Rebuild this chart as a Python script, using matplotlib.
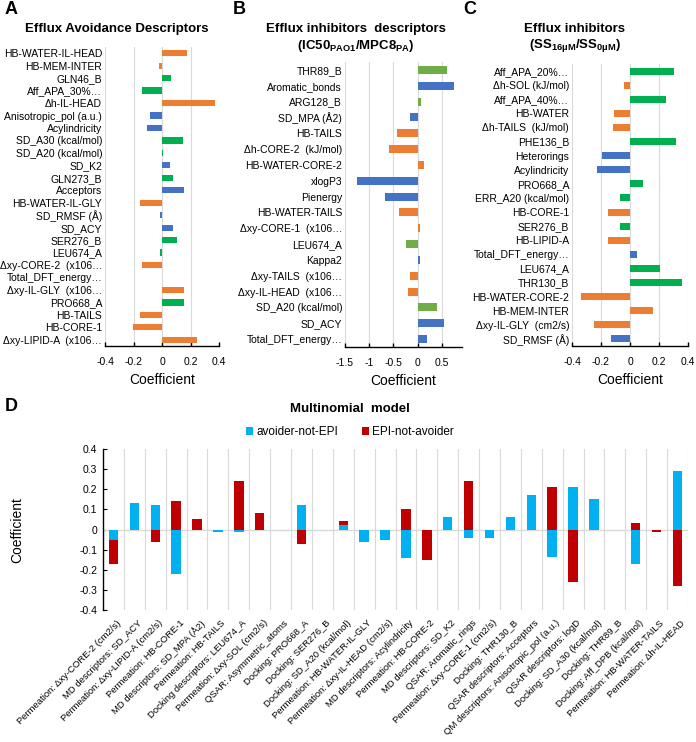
import numpy as np
import matplotlib
matplotlib.use('Agg')
import matplotlib.pyplot as plt

plt.rcParams['font.family'] = ['Liberation Sans', 'DejaVu Sans']
plt.rcParams['mathtext.fontset'] = 'custom'
plt.rcParams['mathtext.rm'] = 'Liberation Sans'
plt.rcParams['mathtext.bf'] = 'Liberation Sans:bold'
plt.rcParams['mathtext.it'] = 'Liberation Sans:italic'

ORANGE = '#ED7D31'
GREEN = '#00B050'
GREEN_B = '#70AD47'
BLUE = '#4472C4'
SKY = '#00B0F0'
DRED = '#C00000'

# panel A
a_labels = ['HB-WATER-IL-HEAD', 'HB-MEM-INTER', 'GLN46_B', 'Aff_APA_30%…', 'Δh-IL-HEAD',
            'Anisotropic_pol (a.u.)', 'Acylindricity', 'SD_A30 (kcal/mol)', 'SD_A20 (kcal/mol)',
            'SD_K2', 'GLN273_B', 'Acceptors', 'HB-WATER-IL-GLY', 'SD_RMSF (Å)', 'SD_ACY',
            'SER276_B', 'LEU674_A', 'Δxy-CORE-2  (x106…', 'Total_DFT_energy…',
            'Δxy-IL-GLY  (x106…', 'PRO668_A', 'HB-TAILS', 'HB-CORE-1', 'Δxy-LIPID-A  (x106…']
a_values = [0.178, -0.02, 0.065, -0.14, 0.37, -0.087, -0.105, 0.145, 0.005, 0.054, 0.075,
            0.154, -0.157, -0.016, 0.075, 0.105, -0.016, -0.143, 0.002, 0.154, 0.152,
            -0.157, -0.206, 0.243]
a_groups = ['o', 'o', 'g', 'g', 'o', 'b', 'b', 'g', 'g', 'b', 'g', 'b', 'o', 'b', 'b',
            'g', 'g', 'o', 'b', 'o', 'g', 'o', 'o', 'o']

# panel B
b_labels = ['THR89_B', 'Aromatic_bonds', 'ARG128_B', 'SD_MPA (Å2)', 'HB-TAILS',
            'Δh-CORE-2  (kJ/mol)', 'HB-WATER-CORE-2', 'xlogP3', 'Pienergy', 'HB-WATER-TAILS',
            'Δxy-CORE-1  (x106…', 'LEU674_A', 'Kappa2', 'Δxy-TAILS  (x106…',
            'Δxy-IL-HEAD  (x106…', 'SD_A20 (kcal/mol)', 'SD_ACY', 'Total_DFT_energy…']
b_values = [0.61, 0.76, 0.07, -0.16, -0.43, -0.60, 0.13, -1.25, -0.68, -0.385, 0.055,
            -0.24, 0.055, -0.15, -0.20, 0.41, 0.54, 0.19]
b_groups = ['g', 'b', 'g', 'b', 'o', 'o', 'o', 'b', 'b', 'o', 'o', 'g', 'b', 'o', 'o',
            'g', 'b', 'b']

# panel C
c_labels = ['Aff_APA_20%…', 'Δh-SOL (kJ/mol)', 'Aff_APA_40%…', 'HB-WATER',
            'Δh-TAILS  (kJ/mol)', 'PHE136_B', 'Heterorings', 'Acylindricity', 'PRO668_A',
            'ERR_A20 (kcal/mol)', 'HB-CORE-1', 'SER276_B', 'HB-LIPID-A', 'Total_DFT_energy…',
            'LEU674_A', 'THR130_B', 'HB-WATER-CORE-2', 'HB-MEM-INTER', 'Δxy-IL-GLY  (cm2/s)',
            'SD_RMSF (Å)']
c_values = [0.30, -0.04, 0.25, -0.11, -0.12, 0.32, -0.19, -0.23, 0.09, -0.07, -0.15,
            -0.07, -0.15, 0.05, 0.21, 0.36, -0.34, 0.16, -0.25, -0.13]
c_groups = ['g', 'o', 'g', 'o', 'o', 'g', 'b', 'b', 'g', 'g', 'o', 'g', 'o', 'b', 'g',
            'g', 'o', 'o', 'o', 'b']

# panel D
d_labels = ['Permeation: Δxy-CORE-2 (cm2/s)', 'MD descriptors: SD_ACY',
            'Permeation: Δxy-LIPID-A (cm2/s)', 'Permeation: HB-CORE-1',
            'MD descriptors: SD_MPA (Å2)', 'Permeation: HB-TAILS',
            'Docking descriptors: LEU674_A', 'Permeation: Δxy-SOL (cm2/s)',
            'QSAR: Asymmetric_atoms', 'Docking: PRO668_A', 'Docking: SER276_B',
            'Docking: SD_A20 (kcal/mol)', 'Permeation: HB-WATER-IL-GLY',
            'Permeation: Δxy-IL-HEAD (cm2/s)', 'MD descriptors: Acylindricity',
            'Permeation: HB-CORE-2', 'MD descriptors: SD_K2', 'QSAR: Aromatic_rings',
            'Permeation: Δxy-CORE-1 (cm2/s)', 'Docking: THR130_B',
            'QSAR descriptors: Acceptors', 'QM descriptors: Anisotropic_pol (a.u.)',
            'QSAR descriptors: logD', 'Docking: SD_A30 (kcal/mol)', 'Docking: THR89_B',
            'Docking: Aff_DPB (kcal/mol)', 'Permeation: HB-WATER-TAILS',
            'Permeation: Δh-IL-HEAD']
avoider = [-0.05, 0.13, 0.12, -0.22, 0.0, -0.01, -0.01, 0.0, 0.0, 0.12, 0.0, 0.02,
           -0.06, -0.05, -0.14, 0.0, 0.06, -0.04, -0.04, 0.06, 0.17, -0.135, 0.21, 0.15,
           0.0, -0.17, 0.0, 0.29]
epi = [-0.12, 0.0, -0.06, 0.14, 0.05, 0.0, 0.24, 0.08, 0.0, -0.07, 0.0, 0.02,
       0.0, 0.0, 0.10, -0.15, 0.0, 0.24, 0.0, 0.0, 0.0, 0.21, -0.26, 0.0,
       0.0, 0.03, -0.01, -0.28]

W, H = 696, 742
fig = plt.figure(figsize=(W / 100, H / 100), dpi=100)


def box(x0, y0, x1, y1):
    return [x0 / W, 1 - y1 / H, (x1 - x0) / W, (y1 - y0) / H]


def hbar_panel(rect, labels, values, groups, colors, xlim, ticks, ticklabels):
    ax = fig.add_axes(rect)
    y = np.arange(len(labels))
    cols = [colors[g] for g in groups]
    ax.barh(y, values, height=0.5, color=cols, zorder=3)
    ax.set_ylim(len(labels) - 0.5, -0.5)
    ax.set_yticks(y)
    ax.set_yticklabels(labels, fontsize=7.5)
    ax.tick_params(axis='y', length=0, pad=2)
    ax.set_xlim(*xlim)
    ax.set_xticks(ticks)
    ax.set_xticklabels(ticklabels, fontsize=7.5)
    ax.tick_params(axis='x', direction='in', length=3, width=1, pad=8)
    for t in ticks:
        ax.axvline(t, color='#D9D9D9', lw=0.8, zorder=1)
    for s in ['top', 'right', 'left']:
        ax.spines[s].set_visible(False)
    ax.spines['bottom'].set_linewidth(1.0)
    ax.set_xlabel('Coefficient', fontsize=10, labelpad=4)
    return ax


cA = {'o': ORANGE, 'g': GREEN, 'b': BLUE}
cB = {'o': ORANGE, 'g': GREEN_B, 'b': BLUE}

hbar_panel(box(105, 47, 219, 346), a_labels, a_values, a_groups, cA, (-0.4, 0.4),
           [-0.4, -0.2, 0, 0.2, 0.4], ['-0.4', '-0.2', '0', '0.2', '0.4'])
hbar_panel(box(345, 62, 462, 347), b_labels, b_values, b_groups, cB, (-1.5, 0.92),
           [-1.5, -1, -0.5, 0, 0.5], ['-1.5', '-1', '-0.5', '0', '0.5'])
hbar_panel(box(572, 64, 688, 346), c_labels, c_values, c_groups, cA, (-0.4, 0.4),
           [-0.4, -0.2, 0, 0.2, 0.4], ['-0.4', '-0.2', '0', '0.2', '0.4'])

fig.text(5 / W, 1 - 10 / H, 'A', fontsize=13, fontweight='bold', va='center')
fig.text(233 / W, 1 - 10 / H, 'B', fontsize=13, fontweight='bold', va='center')
fig.text(463 / W, 1 - 10 / H, 'C', fontsize=13, fontweight='bold', va='center')
fig.text(5 / W, 1 - 407 / H, 'D', fontsize=13, fontweight='bold', va='center')

fig.text(117 / W, 1 - 29 / H, 'Efflux Avoidance Descriptors', fontsize=9.5,
         fontweight='bold', ha='center', va='center')
fig.text(356 / W, 1 - 29 / H, 'Efflux inhibitors  descriptors', fontsize=9.5,
         fontweight='bold', ha='center', va='center')
fig.text(356 / W, 1 - 46 / H, r'(IC50$_{\mathbf{PAO1}}$/MPC8$_{\mathbf{PA}}$)', fontsize=9.5,
         fontweight='bold', ha='center', va='center')
fig.text(575 / W, 1 - 29 / H, 'Efflux inhibitors', fontsize=9.5,
         fontweight='bold', ha='center', va='center')
fig.text(575 / W, 1 - 46 / H, r'(SS$_{\mathbf{16\mu M}}$/SS$_{\mathbf{0\mu M}}$)', fontsize=9.5,
         fontweight='bold', ha='center', va='center')

# panel D
axd = fig.add_axes(box(103, 449, 688, 610))
x = np.arange(len(d_labels))
av = np.array(avoider)
ep = np.array(epi)
bottom = np.where(np.sign(ep) == np.sign(av), av, 0.0)
axd.bar(x, av, width=0.45, color=SKY, zorder=3, label='avoider-not-EPI')
axd.bar(x, ep, width=0.45, bottom=bottom, color=DRED, zorder=3, label='EPI-not-avoider')
axd.set_xlim(-0.5, len(d_labels) - 0.5)
axd.set_ylim(-0.4, 0.4)
axd.set_yticks(np.arange(-0.4, 0.41, 0.1))
axd.set_yticklabels(['-0.4', '-0.3', '-0.2', '-0.1', '0', '0.1', '0.2', '0.3', '0.4'],
                    fontsize=7.5)
axd.tick_params(axis='y', direction='in', length=3, pad=4)
axd.set_xticks(x + 0.15)
axd.set_xticklabels(d_labels, rotation=45, ha='right', rotation_mode='anchor', fontsize=6.8)
axd.tick_params(axis='x', length=0, pad=6)
for k in range(len(d_labels)):
    axd.axvline(k + 0.5, color='#D9D9D9', lw=0.8, zorder=1)
axd.axhline(0, color='#D9D9D9', lw=1.0, zorder=2)
for s in ['top', 'right', 'bottom']:
    axd.spines[s].set_visible(False)
axd.spines['left'].set_linewidth(1.0)
fig.text(17 / W, 1 - 530 / H, 'Coefficient', fontsize=10, rotation=90,
         ha='center', va='center')
fig.text(350 / W, 1 - 409 / H, 'Multinomial  model', fontsize=9.5, fontweight='bold',
         ha='center', va='center')
fig.legend(*axd.get_legend_handles_labels(), loc='center', ncol=2,
           bbox_to_anchor=(350 / W, 1 - 432 / H), frameon=False, fontsize=8.5,
           handlelength=0.6, handleheight=0.6, handletextpad=0.3, columnspacing=2.0)

fig.savefig('out.png', dpi=100)
